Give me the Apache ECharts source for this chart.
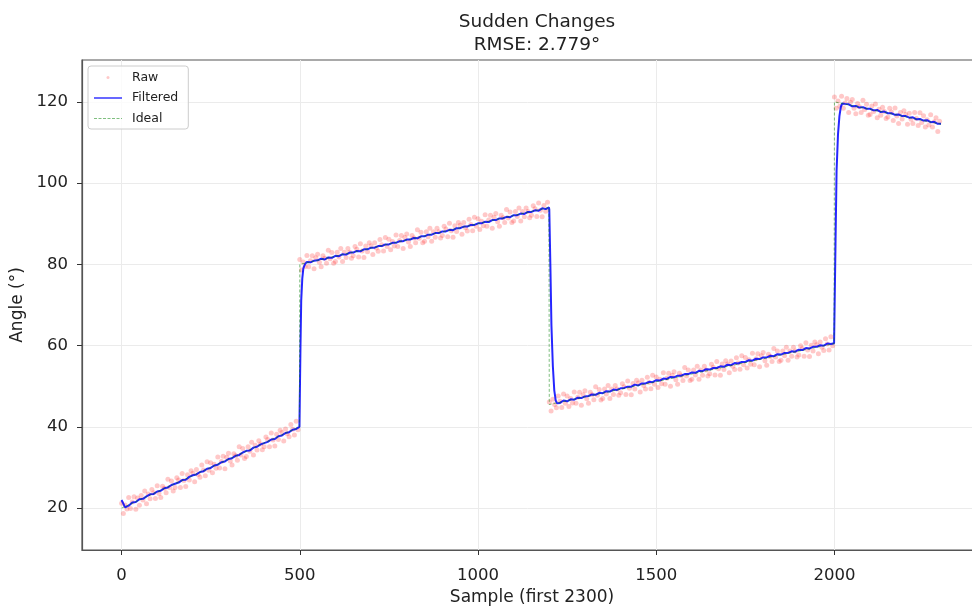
<!DOCTYPE html>
<html>
<head>
<meta charset="utf-8">
<script src="https://cdn.jsdelivr.net/npm/echarts@6/dist/echarts.min.js"></script>
<style>
  html, body { margin: 0; padding: 0; background: #fff; }
  #echart { width: 972px; height: 606px; }
</style>
</head>
<body>
<div id="echart"></div>
<script>
// raw samples, one every 5 samples (0, 5, 10, ... 2295)
var rawStep = 5;
var rawAngles = [
  21.2,18.7,20.8,19.8,22.6,19.9,21.5,22.8,19.7,22.5,
  20.7,23.1,22.0,24.2,21.1,23.5,22.3,24.6,23.8,22.4,
  25.5,23.6,22.6,25.4,24.9,23.8,27.1,25.1,26.7,24.2,
  25.1,27.5,26.9,25.1,28.5,26.8,25.3,28.2,26.9,29.2,
  28.6,26.5,29.5,28.3,27.6,30.6,29.4,28.0,31.4,29.3,
  31.2,28.7,30.8,29.8,32.6,29.9,31.5,32.8,29.7,32.5,
  33.5,31.6,30.6,33.4,32.9,31.8,35.1,33.1,34.7,32.2,
  32.7,35.1,34.0,36.2,33.1,35.5,34.3,36.6,35.8,34.4,
  35.1,37.5,36.9,35.1,38.5,36.8,35.3,38.2,36.9,39.2,
  38.6,36.5,39.5,38.3,37.6,40.6,39.4,38.0,41.4,39.3,
  81.2,78.6,80.6,79.5,82.2,79.4,80.9,82.1,78.9,81.6,
  82.5,80.5,79.4,82.1,81.5,80.3,83.5,81.4,82.9,80.3,
  80.7,83.0,81.8,83.9,80.7,83.0,81.7,83.9,83.0,81.5,
  82.1,84.4,83.7,81.8,85.1,83.3,81.7,84.5,83.1,85.3,
  84.6,82.4,85.3,84.0,83.2,86.1,84.8,83.3,86.6,84.4,
  86.2,83.6,85.6,84.5,87.2,84.4,85.9,87.1,83.9,86.6,
  87.5,85.5,84.4,87.1,86.5,85.3,88.5,86.4,87.9,85.3,
  85.7,88.0,86.8,88.9,85.7,88.0,86.7,88.9,88.0,86.5,
  87.1,89.4,88.7,86.8,90.1,88.3,86.7,89.5,88.1,90.3,
  89.6,87.4,90.3,89.0,88.2,91.1,89.8,88.3,91.6,89.4,
  91.2,88.6,90.6,89.5,92.2,89.4,90.9,92.1,88.9,91.6,
  92.5,90.5,89.4,92.1,91.5,90.3,93.5,91.4,92.9,90.3,
  90.7,93.0,91.8,93.9,90.7,93.0,91.7,93.9,93.0,91.5,
  92.1,94.4,93.7,91.8,95.1,93.3,91.7,94.5,93.1,95.3,
  46.1,43.9,46.8,45.5,44.7,47.6,46.3,44.8,48.1,45.8,
  47.6,45.0,47.0,45.9,48.6,45.8,47.3,48.5,45.3,47.9,
  48.9,46.9,45.8,48.5,47.9,46.7,49.9,47.8,49.2,46.6,
  47.0,49.3,48.1,50.2,47.0,49.3,48.0,50.2,49.3,47.8,
  48.4,50.6,49.9,48.0,51.3,49.5,47.9,50.7,49.3,51.5,
  50.8,48.6,51.5,50.2,49.3,52.2,50.9,49.4,52.7,50.5,
  52.3,49.7,51.7,50.6,53.3,50.5,52.0,53.2,50.0,52.7,
  53.6,51.6,50.5,53.2,52.6,51.4,54.6,52.5,54.0,51.4,
  51.7,54.0,52.8,54.9,51.7,54.0,52.7,54.9,54.0,52.5,
  53.1,55.4,54.7,52.8,56.1,54.3,52.7,55.5,54.1,56.3,
  55.5,53.3,56.2,54.9,54.1,57.0,55.7,54.2,57.5,55.3,
  57.1,54.5,56.5,55.4,58.1,55.3,56.8,58.0,54.8,57.5,
  58.3,56.3,55.2,57.9,57.3,56.1,59.3,57.2,58.7,56.1,
  56.4,58.7,57.5,59.6,56.4,58.7,57.4,59.6,58.7,57.2,
  57.7,60.0,59.3,57.4,60.7,58.9,57.3,60.1,58.7,60.9,
  60.2,58.0,60.9,59.6,58.8,61.7,60.4,58.9,62.2,60.0,
  121.2,118.4,120.2,118.9,121.4,118.4,119.7,120.8,117.4,119.9,
  120.6,118.4,117.1,119.6,118.8,117.4,120.4,118.1,119.4,116.7,
  116.9,119.0,117.6,119.5,116.1,118.2,116.7,118.7,117.6,115.9,
  116.3,118.4,117.5,115.4,118.5,116.5,114.7,117.4,115.8,117.8,
  116.9,114.5,117.2,115.7,114.7,117.4,115.9,114.2,117.3,114.9,
  116.6,113.8,115.6,114.3,116.8,113.8,115.1,116.1,112.7,115.2
];

// filtered output [sample, angle]
var filteredPoints = [
  [0,22.0],[10,20.2],[20,20.6],[30,21.4],[40,21.5],[50,22.2],[60,22.3],[70,22.9],[80,23.4],[90,23.5],
  [100,24.1],[110,24.3],[120,24.9],[130,25.1],[140,25.7],[150,26.0],[160,26.3],[170,26.9],[180,27.0],[190,27.7],
  [200,28.1],[210,28.3],[220,28.9],[230,29.1],[240,29.7],[250,29.9],[260,30.5],[270,30.7],[280,31.3],[290,31.5],
  [300,32.1],[310,32.3],[320,32.9],[330,33.1],[340,33.7],[350,34.1],[360,34.2],[370,34.9],[380,35.1],[390,35.7],
  [400,36.0],[410,36.3],[420,36.9],[430,37.0],[440,37.7],[450,37.9],[460,38.5],[470,38.7],[480,39.3],[490,39.5],
  [499,40.0],[500,40.4],[502,60.0],[504,71.0],[507,76.5],[510,79.0],[515,80.1],[520,80.6],[530,80.5],[540,80.9],
  [550,81.0],[560,81.4],[570,81.2],[580,81.7],[590,81.6],[600,82.1],[610,82.0],[620,82.5],[630,82.4],[640,82.9],
  [650,82.9],[660,83.3],[670,83.2],[680,83.7],[690,83.7],[700,84.1],[710,84.1],[720,84.5],[730,84.5],[740,84.9],
  [750,84.9],[760,85.3],[770,85.3],[780,85.7],[790,85.7],[800,86.1],[810,86.1],[820,86.5],[830,86.4],[840,86.9],
  [850,86.9],[860,87.3],[870,87.3],[880,87.7],[890,87.7],[900,88.1],[910,88.1],[920,88.5],[930,88.4],[940,88.9],
  [950,88.9],[960,89.3],[970,89.3],[980,89.7],[990,89.7],[1000,90.1],[1010,90.1],[1020,90.5],[1030,90.4],[1040,90.9],
  [1050,90.9],[1060,91.3],[1070,91.3],[1080,91.7],[1090,91.6],[1100,92.1],[1110,92.1],[1120,92.5],[1130,92.4],[1140,92.9],
  [1150,92.9],[1160,93.3],[1170,93.2],[1180,93.8],[1190,93.6],[1199,94.0],
  [1200,93.5],[1203,80.0],[1206,65.0],[1210,55.0],[1214,49.0],[1218,46.5],[1222,45.8],[1230,45.9],[1240,46.5],
  [1250,46.3],[1260,46.8],[1270,46.7],[1280,47.2],[1290,47.1],[1300,47.5],[1310,47.6],[1320,48.0],[1330,47.9],[1340,48.4],
  [1350,48.3],[1360,48.8],[1370,48.7],[1380,49.2],[1390,49.1],[1400,49.5],[1410,49.6],[1420,49.9],[1430,49.9],[1440,50.4],
  [1450,50.2],[1460,50.7],[1470,50.7],[1480,51.1],[1490,51.0],[1500,51.5],[1510,51.4],[1520,51.9],[1530,51.8],[1540,52.3],
  [1550,52.2],[1560,52.6],[1570,52.6],[1580,53.0],[1590,53.0],[1600,53.4],[1610,53.3],[1620,53.8],[1630,53.7],[1640,54.2],
  [1650,54.1],[1660,54.5],[1670,54.5],[1680,54.9],[1690,54.8],[1700,55.3],[1710,55.2],[1720,55.7],[1730,55.6],[1740,56.0],
  [1750,56.0],[1760,56.4],[1770,56.3],[1780,56.8],[1790,56.7],[1800,57.1],[1810,57.1],[1820,57.5],[1830,57.4],[1840,57.9],
  [1850,57.8],[1860,58.2],[1870,58.2],[1880,58.6],[1890,58.5],[1900,59.0],[1910,58.9],[1920,59.4],[1930,59.3],[1940,59.7],
  [1950,59.7],[1960,60.1],[1970,60.0],[1980,60.5],[1990,60.4],[1999,60.6],
  [2000,61.0],[2003,85.0],[2006,103.0],[2010,112.0],[2014,116.5],[2018,118.8],[2022,119.6],[2030,119.5],[2040,119.4],
  [2050,118.9],[2060,119.0],[2070,118.6],[2080,118.7],[2090,118.3],[2100,118.3],[2110,117.9],[2120,118.0],[2130,117.5],[2140,117.6],
  [2150,117.2],[2160,117.2],[2170,116.8],[2180,116.9],[2190,116.5],[2200,116.5],[2210,116.1],[2220,116.2],[2230,115.7],[2240,115.8],
  [2250,115.4],[2260,115.5],[2270,115.0],[2280,115.1],[2290,114.6],[2299,114.6]
];

// ideal signal corners
var idealSamples = [0, 499, 500, 1199, 1200, 1999, 2000, 2299];
var idealAngles = [20, 40, 80, 94, 45.5, 60.5, 120, 114.5];

var xTicks = [0, 500, 1000, 1500, 2000];
var yTicks = [20, 40, 60, 80, 100, 120];

var rawData = rawAngles.map(function (v, i) { return [i * rawStep, v]; });
var idealData = idealSamples.map(function (s, i) { return [s, idealAngles[i]]; });

// legend glyphs (box 28 x 12)
var iconDot = 'path://M0,0M28,12M12.5,6a1.5,1.5 0 1,0 3,0a1.5,1.5 0 1,0 -3,0z';
var iconLine = 'path://M0,0M28,12M0,5.3L28,5.3L28,6.7L0,6.7Z';
var iconDash = 'path://M0,0M28,12M0,5.5h3v1h-3zM4.5,5.5h3v1h-3zM9,5.5h3v1h-3zM13.5,5.5h3v1h-3zM18,5.5h3v1h-3zM22.5,5.5h3v1h-3zM27,5.5h1v1h-1z';

var font = 'DejaVu Sans';
var plain = function (v) { return String(v); };
var myChart = echarts.init(document.getElementById('echart'));
var option = {
    animation: false,
    backgroundColor: '#fff',
    title: {
        text: 'Sudden Changes\nRMSE: 2.779°',
        left: 532,
        top: 6,
        textAlign: 'center',
        textStyle: { fontFamily: font, fontSize: 18.5, fontWeight: 'normal', color: '#222', lineHeight: 23 }
    },
    legend: {
        orient: 'vertical',
        left: 88,
        top: 66,
        padding: [5, 10, 4, 6],
        itemGap: 7.5,
        itemWidth: 28,
        itemHeight: 12,
        backgroundColor: 'rgba(255,255,255,0.8)',
        borderColor: '#cccccc',
        borderWidth: 1,
        borderRadius: 3,
        textStyle: { fontFamily: font, fontSize: 12.5, color: '#222', padding: [0, 0, 0, 5] },
        data: [
            { name: 'Raw', icon: iconDot },
            { name: 'Filtered', icon: iconLine },
            { name: 'Ideal', icon: iconDash }
        ]
    },
    grid: {
        left: 82,
        top: 60,
        width: 900,
        bottom: 56,
        outerBoundsMode: 'none',
        show: true,
        borderColor: '#555',
        borderWidth: 1.2
    },
    xAxis: {
        type: 'value',
        min: -111,
        max: 2414,
        name: 'Sample (first 2300)',
        nameLocation: 'middle',
        nameGap: 35,
        nameTextStyle: { fontFamily: font, fontSize: 17, color: '#222' },
        axisLine: { show: true, onZero: false, lineStyle: { color: '#555', width: 1.2 } },
        axisTick: { show: true, length: 5, customValues: xTicks, lineStyle: { color: '#333' } },
        axisLabel: { customValues: xTicks, formatter: plain, margin: 17, fontFamily: font, fontSize: 16.5, color: '#222' },
        splitLine: { show: true, lineStyle: { color: '#ebebeb', width: 1 } }
    },
    yAxis: {
        type: 'value',
        min: 9.7,
        max: 130.3,
        name: 'Angle (°)',
        nameLocation: 'middle',
        nameGap: 56,
        nameTextStyle: { fontFamily: font, fontSize: 17, color: '#222' },
        axisLine: { show: true, onZero: false, lineStyle: { color: '#555', width: 1.2 } },
        axisTick: { show: true, length: 5, customValues: yTicks, lineStyle: { color: '#333' } },
        axisLabel: { customValues: yTicks, formatter: plain, margin: 14, fontFamily: font, fontSize: 16.5, color: '#222' },
        splitLine: { show: true, lineStyle: { color: '#ebebeb', width: 1 } }
    },
    series: [
        {
            name: 'Raw',
            type: 'scatter',
            symbolSize: 5,
            itemStyle: { color: 'rgba(255,0,0,0.27)' },
            data: rawData
        },
        {
            name: 'Filtered',
            type: 'line',
            showSymbol: false,
            symbol: 'none',
            lineStyle: { color: 'rgba(0,0,255,0.85)', width: 2 },
            itemStyle: { color: 'rgba(0,0,255,0.85)' },
            data: filteredPoints
        },
        {
            name: 'Ideal',
            type: 'line',
            showSymbol: false,
            symbol: 'none',
            lineStyle: { color: 'rgba(0,128,0,0.5)', width: 1, type: [3, 2] },
            itemStyle: { color: 'rgba(0,128,0,0.5)' },
            data: idealData
        }
    ]
};
myChart.setOption(option);
window.onresize = myChart.resize;
</script>
</body>
</html>
